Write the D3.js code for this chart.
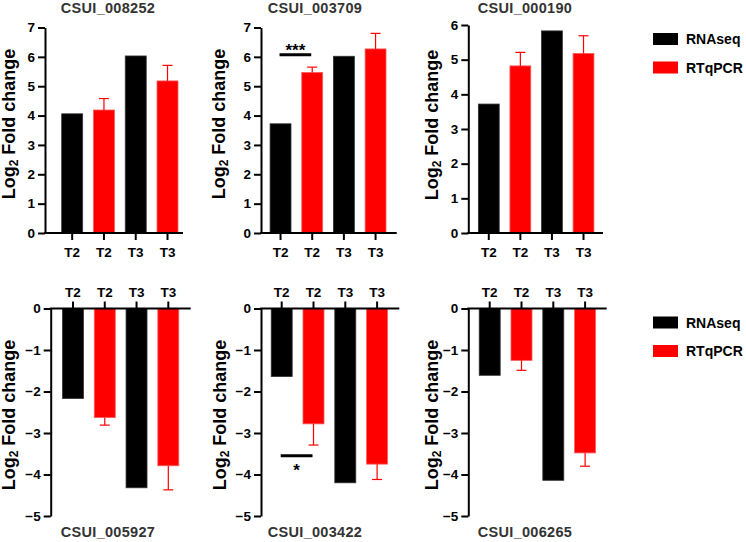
<!DOCTYPE html>
<html>
<head>
<meta charset="utf-8">
<script src="https://cdn.jsdelivr.net/npm/d3@7"></script>
<style>
  body { margin: 0; background: #fff; }
  text { font-family: "Liberation Sans", Arial, sans-serif; font-weight: bold; }
</style>
</head>
<body>
<div id="chart"></div>
<script>
const width = 746,
    height = 542;

// data
const genes = ["CSUI_008252", "CSUI_003709", "CSUI_000190", "CSUI_005927", "CSUI_003422", "CSUI_006265"];
const timepoints = ["T2", "T2", "T3", "T3"];
const methods = ["RNAseq", "RTqPCR"];
const rnaseqT2 = [4.06, 3.72, 3.72, -2.17, -1.64, -1.61];
const rtqpcrT2 = [4.19, 5.47, 4.82, -2.63, -2.78, -1.25];
const rtqpcrT2Err = [0.39, 0.18, 0.39, 0.18, 0.51, 0.24];
const rnaseqT3 = [6.03, 6.02, 5.83, -4.32, -4.20, -4.14];
const rtqpcrT3 = [5.18, 6.27, 5.18, -3.79, -3.75, -3.48];
const rtqpcrT3Err = [0.53, 0.53, 0.51, 0.58, 0.37, 0.32];
const yDomains = [[0, 7], [0, 7], [0, 6], [-5, 0], [-5, 0], [-5, 0]];
const yTicks = [[0, 1, 2, 3, 4, 5, 6, 7], [0, 1, 2, 3, 4, 5, 6, 7], [0, 1, 2, 3, 4, 5, 6], [-5, -4, -3, -2, -1, 0], [-5, -4, -3, -2, -1, 0], [-5, -4, -3, -2, -1, 0]];
// significance brackets: panel, level, label
const sigPanels = [1, 4];
const sigLevels = [6.07, -3.55];
const sigLabels = ["***", "*"];

const colors = ["#000000", "#ff0000"];

const svg = d3.select("#chart")
    .append("svg")
    .attr("width", width)
    .attr("height", height);

// where each panel sits on the page
const frames = [
    { ax: 45,    xEnd: 183,   b0: 56.3,  b1: 183.4, yA: 233,   yB: 27.5,  tx: 108, ty: 12.5,  lx: 15,  ly: 124 },
    { ax: 261,   xEnd: 396.7, b0: 264.7, b1: 391.4, yA: 233,   yB: 27.5,  tx: 315, ty: 12.5,  lx: 225, ly: 124 },
    { ax: 468.3, xEnd: 603,   b0: 473,   b1: 599.3, yA: 233,   yB: 25,    tx: 525, ty: 12.5,  lx: 438, ly: 125 },
    { ax: 50.7,  xEnd: 190.7, b0: 57.1,  b1: 184.2, yA: 516,   yB: 308.5, tx: 108, ty: 536.5, lx: 15,  ly: 415 },
    { ax: 261,   xEnd: 399.3, b0: 265.8, b1: 393,   yA: 516,   yB: 308.5, tx: 315, ty: 536.5, lx: 226, ly: 415 },
    { ax: 468.3, xEnd: 606.7, b0: 473.8, b1: 601,   yA: 516,   yB: 308.5, tx: 525, ty: 536.5, lx: 438, ly: 415 }
];

function drawPanel(i) {
    const f = frames[i];
    const values = [rnaseqT2[i], rtqpcrT2[i], rnaseqT3[i], rtqpcrT3[i]];
    const errs = [0, rtqpcrT2Err[i], 0, rtqpcrT3Err[i]];
    const negative = yDomains[i][1] <= 0;

    const x = d3.scaleBand()
        .domain(d3.range(4))
        .range([f.b0, f.b1])
        .paddingInner(0.34)
        .paddingOuter(0.17);

    const y = d3.scaleLinear()
        .domain(yDomains[i])
        .range([f.yA, f.yB]);

    const g = svg.append("g").attr("class", "panel");

    // bars
    g.selectAll(".bar")
        .data(values)
        .enter()
        .append("rect")
        .attr("class", "bar")
        .attr("x", (d, j) => x(j))
        .attr("y", d => y(Math.max(0, d)))
        .attr("width", x.bandwidth())
        .attr("height", d => Math.abs(y(d) - y(0)))
        .attr("fill", (d, j) => colors[j % 2])
        .attr("stroke", (d, j) => j % 2 ? "#ff5a5a" : "#333")
        .attr("stroke-width", 0.8);

    // error bars (one direction, away from zero)
    const errData = values.map((v, j) => ({ j: j, v: v, end: v + Math.sign(v) * errs[j] }))
        .filter(d => errs[d.j] > 0);

    g.selectAll(".err")
        .data(errData)
        .enter()
        .append("line")
        .attr("x1", d => x(d.j) + x.bandwidth() / 2)
        .attr("x2", d => x(d.j) + x.bandwidth() / 2)
        .attr("y1", d => y(d.v))
        .attr("y2", d => y(d.end))
        .attr("stroke", "#ff0000")
        .attr("stroke-width", 1.2);

    g.selectAll(".cap")
        .data(errData)
        .enter()
        .append("line")
        .attr("x1", d => x(d.j) + x.bandwidth() / 2 - 5)
        .attr("x2", d => x(d.j) + x.bandwidth() / 2 + 5)
        .attr("y1", d => y(d.end))
        .attr("y2", d => y(d.end))
        .attr("stroke", "#ff0000")
        .attr("stroke-width", 1.2);

    // y axis
    const yAxis = g.append("g")
        .attr("transform", `translate(${f.ax},0)`)
        .call(d3.axisLeft(y).tickValues(yTicks[i]).tickFormat(d3.format("d"))
            .tickSize(7).tickPadding(3).tickSizeOuter(0));
    yAxis.select(".domain").attr("stroke-width", 2);
    yAxis.selectAll(".tick line").attr("stroke-width", 2);
    yAxis.selectAll("text").attr("font-size", 13.5).attr("fill", "#000")
        .style("font-family", "'Liberation Sans', Arial, sans-serif").style("font-weight", "bold");

    // x axis (at zero), labels below for up, above for down
    const xAxisFn = negative ? d3.axisTop(x) : d3.axisBottom(x);
    const xAxis = g.append("g")
        .attr("transform", `translate(0,${y(0)})`)
        .call(xAxisFn.tickFormat(j => timepoints[j]).tickSize(7).tickPadding(negative ? 5 : 7));
    xAxis.select(".domain").remove();
    xAxis.selectAll(".tick line").attr("stroke-width", 2);
    xAxis.selectAll("text").attr("font-size", 13.5).attr("fill", "#000")
        .style("font-family", "'Liberation Sans', Arial, sans-serif").style("font-weight", "bold");
    g.append("line")
        .attr("x1", f.ax - 1)
        .attr("x2", f.xEnd)
        .attr("y1", y(0))
        .attr("y2", y(0))
        .attr("stroke", "#000")
        .attr("stroke-width", 2);

    // gene name
    g.append("text")
        .attr("x", f.tx)
        .attr("y", f.ty)
        .attr("text-anchor", "middle")
        .attr("font-size", 14.5)
        .attr("letter-spacing", 0.3)
        .attr("fill", "#333")
        .text(genes[i]);

    // y label with subscript 2
    const yl = g.append("text")
        .attr("transform", `translate(${f.lx},${f.ly}) rotate(-90)`)
        .attr("text-anchor", "middle")
        .attr("font-size", 18)
        .attr("fill", "#000");
    yl.append("tspan").text("Log");
    yl.append("tspan").attr("font-size", 12).attr("dy", 3).text("2");
    yl.append("tspan").attr("dy", -3).text(" Fold change");

    // significance
    const s = sigPanels.indexOf(i);
    if (s >= 0) {
        const lv = sigLevels[s];
        const xa = x(0) + x.bandwidth() / 2 - 1,
            xb = x(1) + x.bandwidth() / 2 - 1;
        g.append("line")
            .attr("x1", xa).attr("x2", xb)
            .attr("y1", y(lv)).attr("y2", y(lv))
            .attr("stroke", "#000")
            .attr("stroke-width", 3);
        g.append("text")
            .attr("x", (xa + xb) / 2)
            .attr("y", lv > 0 ? y(lv) + 1 : y(lv) + 20)
            .attr("text-anchor", "middle")
            .attr("font-size", 17)
            .attr("fill", "#000")
            .text(sigLabels[s]);
    }
}

genes.forEach((d, i) => drawPanel(i));

// legends, one per row
const legendTops = [33, 316.5];
legendTops.forEach(top => {
    const lg = svg.append("g").attr("transform", `translate(653,${top})`);
    lg.selectAll("rect")
        .data(methods)
        .enter()
        .append("rect")
        .attr("x", 0)
        .attr("y", (d, k) => k * 28.5)
        .attr("width", 25)
        .attr("height", 12)
        .attr("fill", (d, k) => colors[k]);
    lg.selectAll("text")
        .data(methods)
        .enter()
        .append("text")
        .attr("x", 33)
        .attr("y", (d, k) => k * 28.5 + 11)
        .attr("font-size", 14)
        .attr("fill", "#000")
        .text(d => d);
});
</script>
</body>
</html>
